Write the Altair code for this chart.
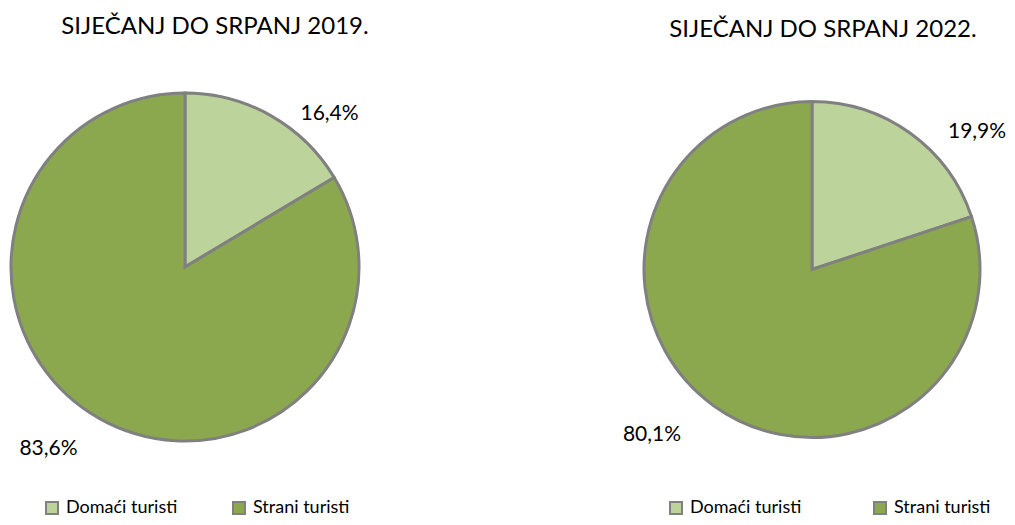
import altair as alt
import pandas as pd

kategorije = ["Domaći turisti", "Strani turisti"]
udjeli_2019 = [16.4, 83.6]
udjeli_2022 = [19.9, 80.1]
naslovi = ["SIJEČANJ DO SRPANJ 2019.", "SIJEČANJ DO SRPANJ 2022."]
boje = ["#bcd39b", "#8ca84f"]

FONT = "Lato"
GRID = "#808080"


def frame(vals):
    return pd.DataFrame({
        "kategorija": kategorije,
        "udio": vals,
        "redoslijed": list(range(len(vals))),
        "oznaka": [f"{v:.1f}%".replace(".", ",") for v in vals],
    })


def pie(vals, cx, cy, r, leg_x, leg_y, col_pad, adj):
    df = frame(vals)
    base = alt.Chart(df)
    arcs = base.mark_arc(radius=r, stroke=GRID, strokeWidth=3).encode(
        theta=alt.Theta("udio:Q", stack=True),
        order=alt.Order("redoslijed:Q"),
        x=alt.value(cx),
        y=alt.value(cy),
        color=alt.Color(
            "kategorija:N",
            scale=alt.Scale(domain=kategorije, range=boje),
            legend=alt.Legend(
                orient="none", legendX=leg_x, legendY=leg_y,
                direction="horizontal", columns=2, title=None,
                symbolType="square", symbolSize=144,
                symbolStrokeColor=GRID, symbolStrokeWidth=2,
                symbolOpacity=1,
                labelFont=FONT, labelFontSize=18, labelColor="black",
                labelOffset=5, columnPadding=col_pad, padding=0,
            ),
        ),
    )
    layers = [arcs]
    for k, (rad, dx, dy) in zip(kategorije, adj):
        t = base.transform_calculate(
            prikaz=f"datum.kategorija === '{k}' ? datum.oznaka : ''"
        ).mark_text(
            radius=rad, dx=dx, dy=dy, font=FONT, fontSize=21,
            color="black", align="center", baseline="middle",
        ).encode(
            theta=alt.Theta("udio:Q", stack=True),
            order=alt.Order("redoslijed:Q"),
            x=alt.value(cx),
            y=alt.value(cy),
            text="prikaz:N",
        )
        layers.append(t)
    return layers


naslov_df = pd.DataFrame({"naslov": naslovi, "i": [0, 1]})


def title_layer(i, x, y):
    return alt.Chart(naslov_df).transform_filter(f"datum.i === {i}").mark_text(
        font=FONT, fontSize=24, color="black", align="center", baseline="middle"
    ).encode(text="naslov:N", x=alt.value(x), y=alt.value(y))


left = pie(udjeli_2019, 177, 259, 174, 35, 491, 51,
           [(200, 46, 21), (200, -38, 8)])
right = pie(udjeli_2022, 804, 261.5, 168, 659, 491, 68,
            [(200, 48, 25), (200, -43, 3)])

chart = alt.layer(
    *left, *right,
    title_layer(0, 207, 19),
    title_layer(1, 815, 22),
).resolve_scale(
    color="independent", theta="independent"
).properties(
    width=999, height=509, padding=0, autosize="none"
).configure_view(stroke=None)

chart.save("out.html", embed_options={"renderer": "svg", "actions": False})
